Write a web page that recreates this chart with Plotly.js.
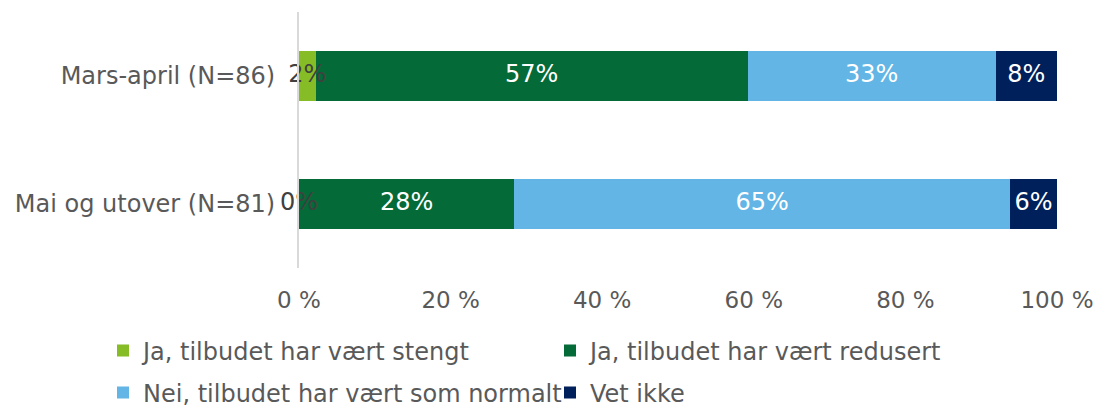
<!DOCTYPE html>
<html>
<head>
<meta charset="utf-8">
<script src="https://cdn.plot.ly/plotly-3.0.1.min.js"></script>
<style>
  body { margin: 0; background: #fff; }
  #chart { width: 1099px; height: 409px; }
</style>
</head>
<body>
<div id="chart"></div>
<script>
// periods (top to bottom)
var periods = ["Mars-april (N=86)", "Mai og utover (N=81)"];

// series names
var seriesNames = [
  "Ja, tilbudet har vært stengt",
  "Ja, tilbudet har vært redusert",
  "Nei, tilbudet har vært som normalt",
  "Vet ikke"
];

// percent values per series, one per period
var stengt = [2.2, 0];
var redusert = [57.0, 28.4];
var normalt = [32.7, 65.4];
var vetIkke = [8.1, 6.2];

var xTicks = [0, 20, 40, 60, 80, 100];
var xTickText = ["0 %", "20 %", "40 %", "60 %", "80 %", "100 %"];

var seriesColors = ["#86bc25", "#046a38", "#62b5e5", "#00205b"];
var labelColors = ["#404040", "#ffffff", "#ffffff", "#ffffff"];
var allValues = [stengt, redusert, normalt, vetIkke];

var fontFam = "DejaVu Sans, Verdana, sans-serif";
var grey = "#595959";
var fsize = 24;

var traces = allValues.map(function (vals, i) {
  return {
    type: "bar",
    orientation: "h",
    name: seriesNames[i],
    y: periods,
    x: vals,
    marker: { color: seriesColors[i], line: { width: 0 } },
    textposition: "none",
    legend: i < 2 ? "legend" : "legend2",
    hoverinfo: "x+name"
  };
});

// segment labels, centred on each stacked segment
var base = periods.map(function () { return 0; });
allValues.forEach(function (vals, i) {
  var centres = vals.map(function (v, k) { return base[k] + v / 2; });
  base = base.map(function (b, k) { return b + vals[k]; });
  traces.push({
    type: "scatter",
    mode: "text",
    y: periods,
    x: centres,
    text: vals.map(function (v) { return Math.round(v) + "%"; }),
    textposition: "middle center",
    textfont: { family: fontFam, size: fsize, color: labelColors[i] },
    cliponaxis: false,
    showlegend: false,
    hoverinfo: "skip"
  });
});

var legendBase = {
  orientation: "h",
  traceorder: "normal",
  x: (103 - 299) / 758,
  xanchor: "left",
  yanchor: "middle",
  entrywidth: 402,
  entrywidthmode: "pixels",
  font: { family: fontFam, size: fsize, color: grey },
  bgcolor: "rgba(0,0,0,0)"
};

var layout = {
  width: 1099,
  height: 409,
  barmode: "stack",
  bargap: 0.61,
  paper_bgcolor: "#ffffff",
  plot_bgcolor: "#ffffff",
  margin: { l: 299, r: 42, t: 12, b: 141, autoexpand: false },
  font: { family: fontFam, size: fsize, color: grey },
  xaxis: {
    range: [0, 100],
    tickvals: xTicks,
    ticktext: xTickText,
    showgrid: false,
    zeroline: false,
    showline: false,
    ticks: "",
    ticklabelstandoff: 16,
    tickfont: { family: fontFam, size: 23, color: grey },
    fixedrange: true
  },
  yaxis: {
    type: "category",
    autorange: "reversed",
    showgrid: false,
    zeroline: false,
    showline: true,
    linecolor: "#d9d9d9",
    linewidth: 2,
    ticks: "",
    ticklabelstandoff: 17,
    tickfont: { family: fontFam, size: fsize, color: grey },
    fixedrange: true
  },
  legend: Object.assign({}, legendBase, { y: (268 - 351) / 256 }),
  legend2: Object.assign({}, legendBase, { y: (268 - 393) / 256 }),
  showlegend: true
};

Plotly.newPlot("chart", traces, layout, { displayModeBar: false, staticPlot: true });
</script>
</body>
</html>
